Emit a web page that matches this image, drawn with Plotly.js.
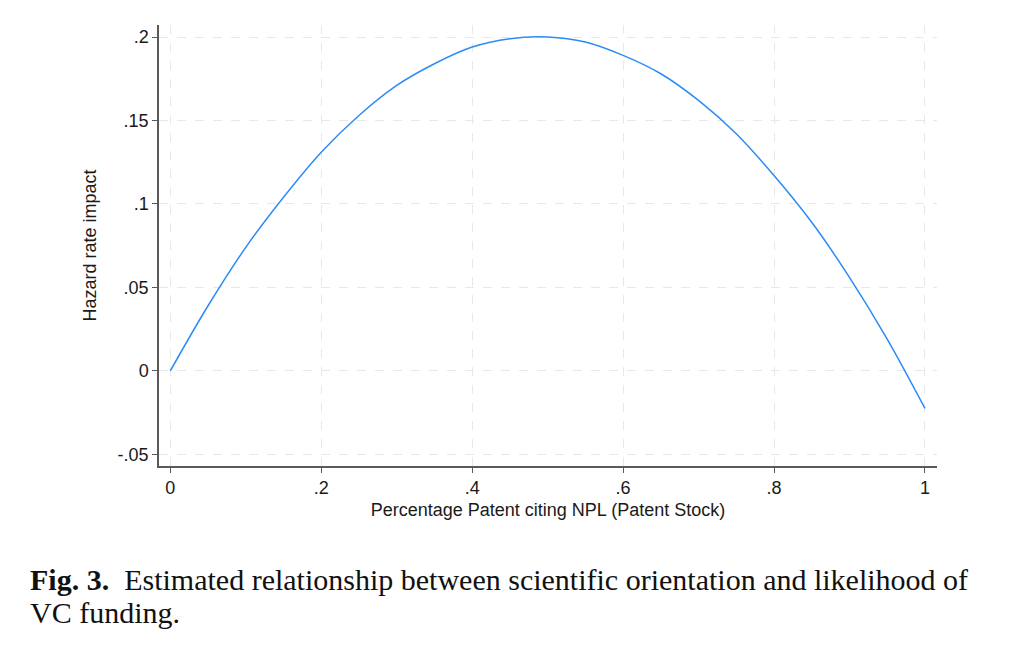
<!DOCTYPE html>
<html>
  <head>
    <meta charset="utf-8" />
    <title>Fig. 3</title>
    <script src="https://cdn.plot.ly/plotly-3.0.1.min.js"></script>
    <style>
      body { margin: 0; padding: 0; background: white; }
      #graphDiv { width: 1023px; height: 661px; }
    </style>
  </head>
  <body>
    <div id="graphDiv"></div>
    <script>
      // values
      const npl_share = [0, 0.05, 0.1, 0.15, 0.2, 0.25, 0.3, 0.35, 0.4, 0.45, 0.5,
                         0.55, 0.6, 0.65, 0.7, 0.75, 0.8, 0.85, 0.9, 0.95, 1];
      const hazard_impact = [0, 0.039, 0.074, 0.104, 0.131, 0.153, 0.171, 0.184, 0.194, 0.199, 0.2,
                             0.197, 0.189, 0.178, 0.162, 0.142, 0.117, 0.089, 0.056, 0.019, -0.0225];

      const x_tickvals = [0, 0.2, 0.4, 0.6, 0.8, 1];
      const x_ticktext = ["0", ".2", ".4", ".6", ".8", "1"];
      const y_tickvals = [-0.05, 0, 0.05, 0.1, 0.15, 0.2];
      const y_ticktext = ["-.05", "0", ".05", ".1", ".15", ".2"];

      const sans = "Liberation Sans, Arial, sans-serif";
      const serif = "Liberation Serif, DejaVu Serif, serif";

      const traces = [
        {
          x: npl_share,
          y: hazard_impact,
          mode: "lines",
          line: { color: "#2b8cf5", width: 1.5, shape: "spline", smoothing: 1 },
          hoverinfo: "x+y",
          showlegend: false,
        },
      ];

      const axis_common = {
        showline: true,
        linecolor: "#5a5a5a",
        linewidth: 1.5,
        ticks: "outside",
        ticklen: 5,
        tickwidth: 1.2,
        tickcolor: "#5a5a5a",
        showgrid: true,
        gridcolor: "#e8e8e8",
        griddash: "dash",
        gridwidth: 1,
        zeroline: false,
        tickfont: { family: sans, size: 18, color: "#1a1a1a" },
        mirror: false,
      };

      const layout = {
        width: 1023,
        height: 661,
        margin: { l: 159, r: 86, t: 25, b: 195 },
        paper_bgcolor: "white",
        plot_bgcolor: "white",
        showlegend: false,
        xaxis: Object.assign({}, axis_common, {
          range: [-0.015, 1.016],
          tickmode: "array",
          tickvals: x_tickvals,
          ticktext: x_ticktext,
          title: {
            text: "Percentage Patent citing NPL (Patent Stock)",
            font: { family: sans, size: 18, color: "#1a1a1a" },
            standoff: 6,
          },
        }),
        yaxis: Object.assign({}, axis_common, {
          range: [-0.057, 0.2072],
          tickmode: "array",
          tickvals: y_tickvals,
          ticktext: y_ticktext,
          title: {
            text: "Hazard rate impact",
            font: { family: sans, size: 18, color: "#1a1a1a" },
            standoff: 16,
          },
        }),
        annotations: [
          {
            xref: "paper", yref: "paper",
            x: -0.1684, y: (466 - 579) / 441,
            xanchor: "left", yanchor: "middle",
            showarrow: false,
            text: "<b>Fig. 3.</b>  Estimated relationship between scientific orientation and likelihood of",
            font: { family: serif, size: 30, color: "#111111" },
          },
          {
            xref: "paper", yref: "paper",
            x: -0.1684, y: (466 - 612) / 441,
            xanchor: "left", yanchor: "middle",
            showarrow: false,
            text: "VC funding.",
            font: { family: serif, size: 30, color: "#111111" },
          },
        ],
      };

      Plotly.newPlot("graphDiv", traces, layout, { displayModeBar: false, responsive: false });
    </script>
  </body>
</html>
